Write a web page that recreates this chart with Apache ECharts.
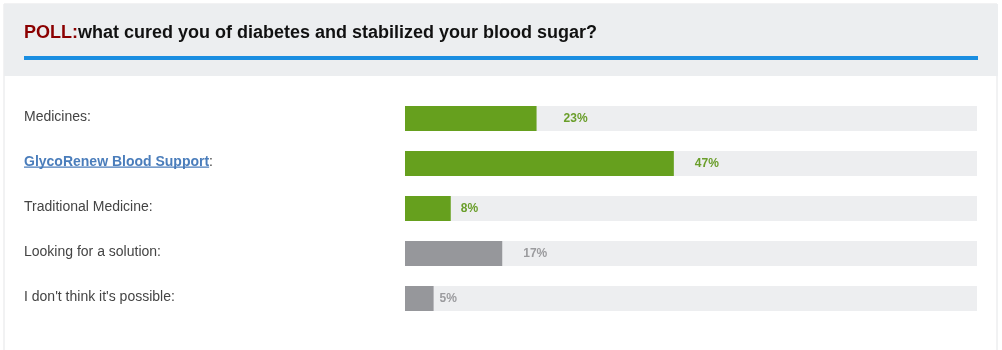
<!DOCTYPE html>
<html>
<head>
<meta charset="utf-8">
<script src="https://cdn.jsdelivr.net/npm/echarts@6/dist/echarts.min.js"></script>
<style>
html,body{margin:0;padding:0;background:#fff;}
#chart{width:1002px;height:350px;}
</style>
</head>
<body>
<div id="chart"></div>
<script>
// ---- data ----
const titlePrefix = 'POLL:';
const titleText = 'what cured you of diabetes and stabilized your blood sugar?';
const categories = ['Medicines', 'GlycoRenew Blood Support', 'Traditional Medicine', 'Looking for a solution', "I don't think it's possible"];
const linkCategory = 'GlycoRenew Blood Support';
const values = [23, 47, 8, 17, 5];
const highlighted = [true, true, true, false, false];
const labelGaps = [27, 21, 10, 21, 6];

const GREEN = '#66a01e';
const GRAY = '#96979b';
const TRACK = '#edeef0';
const LINK = '#4a7dbb';
const FONT = 'Arial, "Liberation Sans", sans-serif';

const chart = echarts.init(document.getElementById('chart'), null, {renderer: 'canvas'});

const gridLeft = 405, gridRight = 25, gridTop = 96, gridBottom = 29;

// measure link text for underline
const ctx = document.createElement('canvas').getContext('2d');
ctx.font = 'bold 14px ' + FONT;
const linkW = ctx.measureText(linkCategory).width;
const linkIdx = categories.indexOf(linkCategory);
const band = (350 - gridTop - gridBottom) / categories.length;
const linkY = gridTop + band * linkIdx + band / 2 + 3;

const option = {
  animation: false,
  backgroundColor: '#fff',
  title: {
    text: '{p|' + titlePrefix + '}{t|' + titleText + '}',
    left: 19,
    top: 19,
    textStyle: {
      rich: {
        p: {color: '#8b0000', fontWeight: 'bold', fontSize: 18, fontFamily: FONT},
        t: {color: '#111', fontWeight: 'bold', fontSize: 18, fontFamily: FONT}
      }
    }
  },
  graphic: [
    {type: 'rect', z: -10, silent: true, shape: {x: 4, y: 4, width: 993, height: 400}, style: {fill: '#fff', stroke: '#e4e5e7', lineWidth: 1}},
    {type: 'rect', z: -9, silent: true, shape: {x: 4, y: 4, width: 994, height: 72}, style: {fill: '#eceef0'}},
    {type: 'rect', z: -8, silent: true, shape: {x: 24, y: 56, width: 954, height: 4}, style: {fill: '#1a8ee1'}},
    {type: 'rect', z: 10, silent: true, shape: {x: 24, y: linkY, width: linkW, height: 1.2}, style: {fill: LINK}}
  ],
  grid: {left: gridLeft, right: gridRight, top: gridTop, bottom: gridBottom, containLabel: false},
  xAxis: {type: 'value', min: 0, max: 100, show: false},
  yAxis: {
    type: 'category',
    inverse: true,
    data: categories,
    axisLine: {show: false},
    axisTick: {show: false},
    splitLine: {show: false},
    axisLabel: {
      align: 'left',
      margin: gridLeft - 24,
      formatter: function (v) {
        return v === linkCategory ? '{l|' + v + '}{n|:}' : '{n|' + v + ':}';
      },
      rich: {
        n: {color: '#444', fontSize: 14, fontFamily: FONT, padding: [0, 0, 2, 0]},
        l: {color: LINK, fontSize: 14, fontWeight: 'bold', fontFamily: FONT, padding: [0, 0, 2, 0]}
      }
    }
  },
  series: [{
    type: 'bar',
    barWidth: 25,
    showBackground: true,
    backgroundStyle: {color: TRACK},
    data: values.map(function (v, i) {
      const c = highlighted[i] ? GREEN : GRAY;
      return {
        value: v,
        itemStyle: {color: c},
        label: {
          show: true,
          position: 'right',
          distance: labelGaps[i],
          formatter: '{c}%',
          color: highlighted[i] ? '#6a9e2a' : '#9b9b9e',
          fontWeight: 'bold',
          fontSize: 12,
          fontFamily: FONT
        }
      };
    })
  }]
};
chart.setOption(option);
</script>
</body>
</html>
